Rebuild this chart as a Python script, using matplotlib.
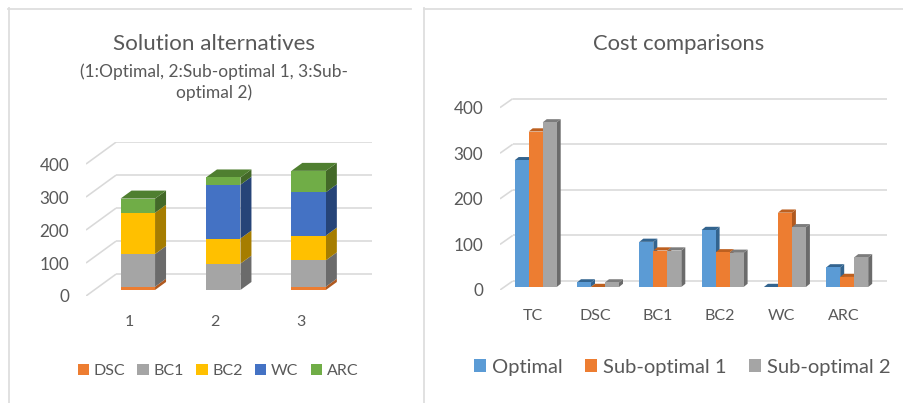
import matplotlib
matplotlib.use("Agg")
import matplotlib.pyplot as plt
from matplotlib.lines import Line2D
from matplotlib.patches import Patch

# ---- data ----
alternatives = ["1", "2", "3"]
stack_names = ["DSC", "BC1", "BC2", "WC", "ARC"]
DSC = [10, 0, 10]
BC1 = [99, 80, 80]
BC2 = [125, 76, 75]
WC = [0, 163, 131]
ARC = [43, 22, 65]

cost_items = ["TC", "DSC", "BC1", "BC2", "WC", "ARC"]
optimal = [278, 10, 99, 125, 0, 43]
sub_optimal_1 = [341, 0, 80, 76, 163, 22]
sub_optimal_2 = [361, 10, 80, 75, 131, 65]
cost_names = ["Optimal", "Sub-optimal 1", "Sub-optimal 2"]
y_ticks = [0, 100, 200, 300, 400]

# ---- style ----
W, H = 904, 403
plt.rcParams["font.family"] = ["Lato", "DejaVu Sans"]
TXT = "#595959"
GRID = "#D9D9D9"
stack_cols = [("#ED7D31", "#B0591F", "#BD6020"), ("#A5A5A5", "#6B6B6B", "#7C7C7C"),
              ("#FFC000", "#A67D00", "#BF9000"), ("#4472C4", "#264478", "#2F5597"),
              ("#70AD47", "#436928", "#4F7F30")]
clus_cols = [("#5B9BD5", "#33648F", "#33648F"), ("#ED7D31", "#B0591F", "#BD6020"),
             ("#A5A5A5", "#6B6B6B", "#7C7C7C")]

fig = plt.figure(figsize=(W / 100, H / 100), dpi=100, facecolor="white")


def make_axes(px_left, px_right, px_top, px_bottom, x0, dx_px, y0, sy):
    """Axes whose data units map to the given pixel layout."""
    ax = fig.add_axes([px_left / W, 1 - px_bottom / H,
                       (px_right - px_left) / W, (px_bottom - px_top) / H])
    ax.set_xlim((px_left - x0) / dx_px, (px_right - x0) / dx_px)
    ax.set_ylim((y0 - px_bottom) / sy, (y0 - px_top) / sy)
    ax.patch.set_alpha(0)
    for s in ax.spines.values():
        s.set_visible(False)
    return ax


def walls(ax, front_shift, back_shift):
    xa, xb = ax.get_xlim()
    x_back = xa + wall_frac[ax] * (xb - xa)
    for v in y_ticks:
        ax.plot([x_back, xb], [v + back_shift] * 2, color=GRID, lw=1.15, zorder=1,
                solid_capstyle="butt")
        ax.plot([xa, x_back], [v + front_shift, v + back_shift], color=GRID, lw=1.15,
                zorder=1, solid_capstyle="butt")
    ax.set_yticks([v + front_shift for v in y_ticks], [str(v) for v in y_ticks])


def bar3d(ax, x, bottom, height, width, dx, dy, cols, top, z):
    x0, x1 = x - width / 2, x + width / 2
    y1 = bottom + height
    if height > 0:
        ax.fill([x1, x1 + dx, x1 + dx, x1], [bottom, bottom + dy, y1 + dy, y1],
                color=cols[1], lw=0, zorder=z)
        ax.bar(x, height, width, bottom=bottom, color=cols[0], lw=0, zorder=z + 0.2)
    if top:
        ax.fill([x0, x1, x1 + dx, x0 + dx], [y1, y1, y1 + dy, y1 + dy],
                color=cols[2], lw=0, zorder=z + 0.1)


# ---- left chart ----
axL = make_axes(86, 372, 142, 296, 137.8, 85.4, 290, 0.33)
wall_frac = {axL: 30 / 286}
walls(axL, -18.2, 48)
dxL, dyL, wL = 11 / 85.4, 8 / 0.33, 34.5 / 85.4
stacks = [DSC, BC1, BC2, WC, ARC]
for i in range(len(alternatives)):
    base = 0
    last = max(k for k, s in enumerate(stacks) if s[i] > 0)
    for k, s in enumerate(stacks):
        bar3d(axL, i, base, s[i], wL, dxL, dyL, stack_cols[k], k == last, 2 + k)
        base += s[i]
axL.set_xticks([i - 8 / 85.4 for i in range(len(alternatives))], alternatives)

# ---- right chart ----
axR = make_axes(500, 887, 98, 290, 535.7, 62.3, 287, 0.456)
wall_frac[axR] = 12.7 / 387
walls(axR, -6.6, 13)
dxR, dyR, wR = 4 / 62.3, 3.2 / 0.456, 14 / 62.3
series = [optimal, sub_optimal_1, sub_optimal_2]
for i in range(len(cost_items)):
    for j, s in enumerate(series):
        bar3d(axR, i + (j - 1) * wR, 0, s[i], wR, dxR, dyR, clus_cols[j], True, 2 + i + j * 0.3)
axR.set_xticks([i - 3 / 62.3 for i in range(len(cost_items))], cost_items)

for ax in (axL, axR):
    ax.tick_params(axis="x", length=0, labelsize=11.5, colors=TXT, pad=14)
    ax.tick_params(axis="y", length=0, labelsize=12.3, colors=TXT, pad=12)

# ---- titles ----
fig.text(214 / W, 1 - 44 / H, "Solution alternatives", ha="center", va="center",
         fontsize=16.1, color=TXT)
fig.text(214 / W, 1 - 72 / H, "(1:Optimal, 2:Sub-optimal 1, 3:Sub-", ha="center",
         va="center", fontsize=12.5, color=TXT)
fig.text(214.5 / W, 1 - 93 / H, "optimal 2)", ha="center", va="center", fontsize=12.5, color=TXT)
fig.text(678.5 / W, 1 - 44 / H, "Cost comparisons", ha="center", va="center",
         fontsize=15.8, color=TXT)

# ---- legends ----
legL = fig.legend(handles=[Patch(color=c[0], lw=0) for c in stack_cols], labels=stack_names,
                  loc="center", bbox_to_anchor=(218 / W, 1 - 371 / H), ncol=5, frameon=False,
                  fontsize=11.5, handlelength=0.72, handleheight=0.72, handletextpad=0.3,
                  columnspacing=0.75, labelcolor=TXT, borderpad=0, borderaxespad=0)
legR = fig.legend(handles=[Patch(color=c[0], lw=0) for c in clus_cols], labels=cost_names,
                  loc="center", bbox_to_anchor=(682 / W, 1 - 367 / H), ncol=3, frameon=False,
                  fontsize=14.5, handlelength=0.6, handleheight=0.6, handletextpad=0.3,
                  columnspacing=1.1, labelcolor=TXT, borderpad=0, borderaxespad=0)

# ---- panel borders ----
BORDER = "#DEDEDE"
for xs, ys in [((8, 411), (8.5, 8.5)), ((8.5, 8.5), (8, 403)),
               ((424, 904), (8.5, 8.5)), ((424.5, 424.5), (8, 403))]:
    fig.add_artist(Line2D([x / W for x in xs], [1 - y / H for y in ys], color=BORDER, lw=1.3,
                          transform=fig.transFigure))

fig.savefig("out.png", dpi=100)
